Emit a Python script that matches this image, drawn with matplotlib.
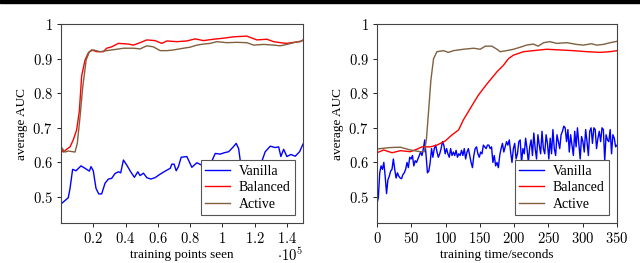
import numpy as np
import matplotlib
matplotlib.use("Agg")
from matplotlib import pyplot as plt
from matplotlib.patches import Rectangle

# ---- data ----
# left panel: x in units of 1e5 training points
van_pts_x = [0, 0.025, 0.045, 0.056, 0.072, 0.093, 0.124, 0.149, 0.176, 0.186, 0.2, 0.217,
             0.234, 0.252, 0.273, 0.294, 0.314, 0.335, 0.356, 0.37, 0.387, 0.408, 0.432,
             0.455, 0.476, 0.49, 0.511, 0.532, 0.557, 0.583, 0.614, 0.646, 0.677, 0.687,
             0.701, 0.714, 0.728, 0.745, 0.78, 0.811, 0.842, 0.873, 0.904, 0.935, 0.956,
             0.987, 1.012, 1.039, 1.066, 1.086, 1.101, 1.115, 1.15, 1.2, 1.236, 1.266,
             1.297, 1.328, 1.349, 1.363, 1.38, 1.4, 1.425, 1.452, 1.479, 1.5]
van_pts_y = [0.48, 0.49, 0.498, 0.525, 0.58, 0.576, 0.59, 0.583, 0.575, 0.588, 0.576, 0.525,
             0.509, 0.509, 0.54, 0.552, 0.554, 0.568, 0.573, 0.57, 0.607, 0.592, 0.573,
             0.557, 0.573, 0.562, 0.569, 0.556, 0.552, 0.556, 0.566, 0.575, 0.583, 0.595,
             0.595, 0.576, 0.588, 0.615, 0.617, 0.586, 0.599, 0.592, 0.604, 0.604, 0.626,
             0.624, 0.628, 0.631, 0.644, 0.655, 0.64, 0.592, 0.555, 0.56, 0.592, 0.631,
             0.647, 0.643, 0.645, 0.617, 0.638, 0.617, 0.623, 0.618, 0.631, 0.653]

bal_pts_x = [0, 0.014, 0.035, 0.056, 0.076, 0.097, 0.114, 0.128, 0.149, 0.17, 0.19, 0.221,
             0.263, 0.283, 0.314, 0.356, 0.418, 0.449, 0.49, 0.532, 0.583, 0.625, 0.656,
             0.718, 0.78, 0.832, 0.883, 0.945, 1.007, 1.07, 1.152, 1.214, 1.276, 1.318,
             1.359, 1.4, 1.442, 1.483, 1.5]
bal_pts_y = [0.64, 0.63, 0.638, 0.645, 0.665, 0.694, 0.75, 0.85, 0.896, 0.917, 0.925, 0.92,
             0.92, 0.93, 0.934, 0.944, 0.942, 0.939, 0.946, 0.954, 0.952, 0.944, 0.951,
             0.949, 0.951, 0.957, 0.952, 0.956, 0.959, 0.963, 0.965, 0.954, 0.956, 0.949,
             0.946, 0.944, 0.947, 0.949, 0.954]

act_pts_x = [0, 0.025, 0.045, 0.087, 0.101, 0.118, 0.135, 0.156, 0.176, 0.201, 0.242, 0.283,
             0.345, 0.387, 0.449, 0.49, 0.532, 0.573, 0.614, 0.656, 0.697, 0.759, 0.8,
             0.842, 0.883, 0.925, 0.966, 1.028, 1.09, 1.152, 1.194, 1.256, 1.318, 1.359,
             1.4, 1.442, 1.5]
act_pts_y = [0.645, 0.63, 0.633, 0.63, 0.655, 0.732, 0.819, 0.896, 0.92, 0.925, 0.92, 0.923,
             0.927, 0.93, 0.93, 0.928, 0.937, 0.934, 0.923, 0.923, 0.925, 0.93, 0.933,
             0.939, 0.942, 0.944, 0.949, 0.946, 0.947, 0.946, 0.939, 0.941, 0.939, 0.937,
             0.941, 0.946, 0.952]

# right panel: x in seconds
van_time_y = [0.48, 0.50, 0.57, 0.59, 0.58, 0.60, 0.56, 0.51, 0.55, 0.56, 0.575, 0.58, 0.61,
              0.58, 0.555, 0.57, 0.56, 0.555, 0.553, 0.565, 0.57, 0.58, 0.60, 0.585, 0.615,
              0.61, 0.62, 0.59, 0.605, 0.60, 0.61, 0.62, 0.63, 0.62, 0.64, 0.665, 0.62, 0.57,
              0.575, 0.60, 0.64, 0.615, 0.64, 0.65, 0.63, 0.615, 0.625, 0.64, 0.66, 0.65,
              0.625, 0.64, 0.625, 0.615, 0.64, 0.62, 0.63, 0.62, 0.635, 0.615, 0.625, 0.62,
              0.635, 0.62, 0.64, 0.61, 0.63, 0.64, 0.62, 0.60, 0.585, 0.62, 0.64, 0.645,
              0.625, 0.615, 0.63, 0.625, 0.65, 0.645, 0.64, 0.65, 0.65, 0.64, 0.645, 0.60,
              0.62, 0.59, 0.60, 0.585, 0.62, 0.64, 0.655, 0.63, 0.645, 0.66, 0.65, 0.665,
              0.63, 0.60, 0.64, 0.655, 0.61, 0.625, 0.66, 0.665, 0.60, 0.64, 0.625, 0.67,
              0.64, 0.60, 0.645, 0.665, 0.62, 0.685, 0.64, 0.61, 0.68, 0.65, 0.625, 0.69,
              0.64, 0.625, 0.68, 0.655, 0.61, 0.67, 0.625, 0.695, 0.64, 0.62, 0.68, 0.66,
              0.64, 0.68, 0.69, 0.705, 0.70, 0.66, 0.695, 0.63, 0.68, 0.65, 0.62, 0.69,
              0.645, 0.70, 0.655, 0.61, 0.675, 0.66, 0.63, 0.695, 0.66, 0.62, 0.69, 0.70,
              0.655, 0.70, 0.695, 0.64, 0.67, 0.69, 0.66, 0.70, 0.695, 0.605, 0.68, 0.665,
              0.66, 0.695, 0.625, 0.68, 0.67, 0.645, 0.65]

bal_time_x = [0, 9.7, 22, 34, 48.5, 58, 65.5, 77.7, 87.4, 99.5, 109, 119, 126, 136, 148, 160,
              175, 184.5, 191.8, 199, 213.6, 228, 247.6, 267, 286, 306, 325, 340, 350]
bal_time_y = [0.628, 0.636, 0.628, 0.634, 0.631, 0.638, 0.645, 0.645, 0.65, 0.662, 0.679,
              0.694, 0.723, 0.756, 0.795, 0.826, 0.862, 0.881, 0.9, 0.91, 0.92, 0.923, 0.927,
              0.925, 0.923, 0.92, 0.918, 0.92, 0.923]

act_time_x = [0, 19.4, 34, 48.5, 63, 69, 72, 75, 78.6, 82.5, 87.4, 97, 104, 111.6, 126, 141,
              150.5, 158, 167.5, 175, 179.6, 189, 199, 209, 218, 228, 235, 243, 252, 262, 277,
              291, 301, 313, 320, 330, 340, 350]
act_time_y = [0.639, 0.643, 0.644, 0.636, 0.631, 0.631, 0.665, 0.742, 0.838, 0.9, 0.92, 0.923,
              0.918, 0.923, 0.927, 0.93, 0.927, 0.936, 0.936, 0.927, 0.92, 0.923, 0.927, 0.933,
              0.939, 0.942, 0.936, 0.946, 0.949, 0.944, 0.946, 0.941, 0.939, 0.943, 0.939,
              0.941, 0.946, 0.95]

series_names = ["Vanilla", "Balanced", "Active"]
series_colors = ["#0000ff", "#ff0000", "#80603f"]

plt.rcParams["font.family"] = ["Liberation Serif", "DejaVu Serif"]
plt.rcParams["mathtext.fontset"] = "cm"
plt.rcParams["font.size"] = 9.5

fig = plt.figure(figsize=(6.4, 2.63), dpi=100)
# black strip along the top edge
fig.patches.append(Rectangle((0, 1 - 3 / 263), 1, 3 / 263, transform=fig.transFigure,
                             color="black", zorder=10))

ax1 = fig.add_axes([61 / 640, 1 - 223 / 263, 242 / 640, 199 / 263])
ax2 = fig.add_axes([377 / 640, 1 - 223 / 263, 240 / 640, 199 / 263])

lw = 1.0
ax1.plot(van_pts_x, van_pts_y, color=series_colors[0], lw=lw, label=series_names[0])
ax1.plot(bal_pts_x, bal_pts_y, color=series_colors[1], lw=lw, label=series_names[1])
ax1.plot(act_pts_x, act_pts_y, color=series_colors[2], lw=lw, label=series_names[2])

van_time_x = np.linspace(0, 350, len(van_time_y))
ax2.plot(van_time_x, van_time_y, color=series_colors[0], lw=lw, label=series_names[0])
ax2.plot(bal_time_x, bal_time_y, color=series_colors[1], lw=lw, label=series_names[1])
ax2.plot(act_time_x, act_time_y, color=series_colors[2], lw=lw, label=series_names[2])

yt = [0.5, 0.6, 0.7, 0.8, 0.9, 1.0]
for ax in (ax1, ax2):
    ax.set_ylim(0.425, 1.0)
    ax.set_yticks(yt)
    ax.set_yticklabels(["$%g$" % v for v in yt])
    ax.set_ylabel("average AUC", labelpad=3)
    ax.tick_params(direction="out", length=3, width=0.6, pad=3, labelsize=10.5)
    for s in ax.spines.values():
        s.set_linewidth(0.8)
        s.set_color("#444444")
    leg = ax.legend(loc="lower right", fancybox=False, edgecolor="#555555", framealpha=1,
                    borderaxespad=0.6, handlelength=1.8, fontsize=10,
                    borderpad=0.3, labelspacing=0.25, handletextpad=0.6)
    leg.get_frame().set_linewidth(0.8)

xt1 = [0.2, 0.4, 0.6, 0.8, 1.0, 1.2, 1.4]
ax1.set_xlim(0, 1.5)
ax1.set_xticks(xt1)
ax1.set_xticklabels(["$%g$" % v for v in xt1])
ax1.set_xlabel("training points seen", labelpad=2)
ax1.text(1.0, -0.165, r"$\cdot 10^5$", transform=ax1.transAxes, ha="right", va="center",
         fontsize=10.5)

xt2 = [0, 50, 100, 150, 200, 250, 300, 350]
ax2.set_xlim(0, 350)
ax2.set_xticks(xt2)
ax2.set_xticklabels(["$%d$" % v for v in xt2])
ax2.set_xlabel("training time/seconds", labelpad=2)

fig.savefig("out.png", dpi=100)
